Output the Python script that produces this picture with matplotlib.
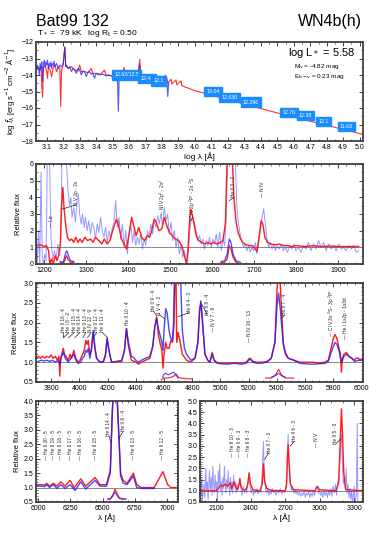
import matplotlib
matplotlib.use("Agg")
import matplotlib.pyplot as plt
from matplotlib.ticker import MultipleLocator, AutoMinorLocator, FormatStrFormatter

plt.rcParams['font.family'] = ['Liberation Sans Narrow', 'Liberation Sans', 'DejaVu Sans']

# ---------------- DATA ----------------
title_star = "Bat99 132"
title_type = "WN4b(h)"
subtitle = r"T$_*$ =  79 kK   log R$_\mathrm{t}$ = 0.50"

# SED panel
sed_model_x = [3.035,3.05,3.06,3.065,3.07,3.075,3.08,3.09,3.10,3.105,3.11,3.12,3.13,3.14,3.15,3.16,3.17,3.18,3.185,3.19,3.20,3.21,3.215,3.23,3.25,3.27,3.29,3.30,3.31,3.33,3.35,3.37,3.38,3.40,3.43,3.45,3.46,3.50,3.52,3.55,3.57,3.58,3.62,3.64,3.65,3.665,3.67,3.70,3.73,3.76,3.80,3.83,3.835,3.855,3.86,3.885,3.89,3.915,3.92,4.0,4.5,5.02]
sed_model_y = [-13.65,-13.55,-13.7,-13.5,-14.6,-15.35,-13.6,-13.4,-13.8,-14.2,-13.5,-13.7,-14.1,-13.5,-13.4,-13.8,-13.5,-13.6,-15.9,-13.7,-13.4,-12.3,-13.4,-13.6,-13.5,-13.7,-13.75,-13.4,-13.8,-13.8,-13.85,-13.6,-13.9,-13.9,-13.95,-13.7,-14.0,-14.05,-14.1,-14.05,-13.55,-14.1,-14.15,-13.9,-14.2,-13.05,-14.2,-14.3,-14.35,-14.4,-14.45,-14.2,-14.5,-14.25,-14.55,-14.3,-14.6,-14.35,-14.65,-14.95,-16.3,-17.6]
sed_obs_x = [3.04,3.045,3.05,3.055,3.06,3.065,3.07,3.075,3.08,3.085,3.09,3.095,3.10,3.105,3.11,3.115,3.12,3.125,3.13,3.135,3.14,3.145,3.15,3.16,3.17,3.18,3.19,3.20,3.21,3.215,3.22,3.23,3.24,3.25,3.26,3.27,3.28,3.29,3.30,3.31,3.32,3.33,3.34,3.35,3.36,3.37,3.38,3.39,3.40,3.42,3.44,3.46,3.48,3.50,3.51,3.52,3.53,3.535,3.54,3.56,3.58,3.60,3.62,3.64,3.66,3.665,3.67,3.69,3.71,3.73,3.75,3.77,3.79,3.81,3.82,3.825,3.83,3.835,3.84]
sed_obs_y = [-13.7,-13.4,-13.6,-14.0,-13.3,-13.6,-13.2,-14.4,-13.3,-13.1,-13.5,-13.2,-13.4,-13.1,-13.6,-13.3,-13.5,-13.2,-13.6,-13.3,-13.4,-13.15,-13.5,-13.3,-13.6,-13.4,-13.5,-13.3,-12.3,-13.5,-13.4,-13.6,-13.5,-13.8,-13.6,-13.7,-13.9,-13.6,-13.7,-14.0,-13.75,-13.8,-14.1,-13.85,-13.8,-13.95,-13.9,-14.2,-13.9,-14.0,-13.95,-14.05,-14.0,-14.1,-14.3,-14.05,-14.3,-16.2,-14.1,-14.15,-14.1,-14.2,-14.15,-14.25,-14.2,-13.4,-14.3,-14.3,-14.35,-14.4,-14.35,-14.45,-14.4,-14.5,-14.0,-14.5,-14.45,-15.3,-14.5]
phot_x = [3.585,3.71,3.78,4.11,4.21,4.34,4.57,4.67,4.78,4.92]
phot_y = [-14.0,-14.2,-14.36,-15.02,-15.37,-15.64,-16.26,-16.46,-16.81,-17.12]
phot_labels = ["12.62/12.5","12.43","12.1","13.04","12.630","12.296","12.76","12.38","12.1","11.63"]
sed_text = [r"log L$_*$ = 5.58", r"M$_\mathrm{v}$ = -4.82 mag", r"E$_\mathrm{b-v}$ = 0.23 mag"]

# UV panel
uv_model_x = [1180,1190,1200,1205,1210,1213,1217,1221,1226,1230,1234,1238,1241,1244,1247,1251,1255,1260,1265,1270,1275,1280,1285,1290,1297,1303,1310,1316,1322,1330,1337,1343,1350,1356,1363,1372,1378,1384,1390,1396,1402,1408,1414,1419,1425,1432,1439,1445,1451,1456,1462,1467,1473,1480,1486,1492,1498,1505,1512,1520,1528,1534,1539,1543,1546,1549,1553,1557,1562,1568,1575,1582,1590,1597,1604,1612,1620,1626,1632,1636,1648,1652,1657,1662,1668,1675,1682,1690,1697,1703,1707,1712,1717,1721,1726,1732,1740,1750,1760,1770,1780,1790,1800,1820,1840,1860,1880,1900,1920,1950]
uv_model_y = [1.1,1.15,1.05,1.1,0.8,0.0,0.3,0.0,0.5,0.2,0.5,1.2,3.5,4.6,3.3,2.3,1.6,1.4,1.5,1.3,1.6,1.3,1.5,1.3,1.6,1.4,1.5,1.3,1.6,1.4,1.2,1.5,1.2,1.4,2.0,2.7,2.2,1.5,1.2,0.9,1.8,2.8,2.2,1.7,2.2,1.6,1.4,1.7,1.6,2.0,2.7,2.5,2.0,2.1,2.8,2.3,1.9,1.7,1.5,1.4,1.1,0.5,0.0,1.0,2.5,3.3,2.9,2.4,1.7,1.4,1.3,1.2,1.3,1.2,1.3,1.2,1.3,1.4,2.5,6.5,6.5,4.0,2.6,1.9,1.5,1.25,1.15,1.1,1.1,0.9,0.75,1.6,2.6,2.4,1.6,1.3,1.2,1.15,1.2,1.1,1.1,1.05,1.1,1.05,1.1,1.05,1.08,1.05,1.05,1.05]
uv_obs_x = [1180,1183,1186,1189,1192,1195,1198,1201,1204,1207,1212,1216,1220,1224,1228,1232,1236,1239,1242,1252,1256,1260,1263,1266,1270,1274,1278,1281,1284,1288,1291,1295,1298,1302,1306,1310,1314,1318,1322,1326,1330,1334,1338,1342,1346,1350,1354,1358,1362,1366,1370,1374,1378,1382,1386,1390,1394,1398,1402,1406,1410,1414,1418,1422,1426,1430,1434,1438,1442,1446,1450,1454,1458,1462,1466,1470,1474,1478,1482,1486,1490,1494,1498,1502,1506,1510,1514,1518,1522,1526,1530,1534,1538,1542,1546,1550,1554,1558,1562,1566,1570,1574,1578,1582,1586,1590,1594,1598,1602,1606,1610,1614,1618,1622,1626,1630,1634,1637,1655,1659,1663,1667,1671,1675,1679,1683,1687,1691,1695,1699,1703,1707,1711,1715,1719,1723,1727,1731,1735,1739,1743,1747,1751,1755,1760,1765,1770,1775,1780,1785,1790,1795,1800,1806,1812,1818,1824,1830,1836,1842,1848,1854,1860,1866,1872,1878,1884,1890,1896,1902,1908,1914,1920,1926,1932,1938,1944,1950]
uv_obs_y = [2.5,0.0,2.0,0.0,5.5,0.5,0.0,0.6,0.2,6.5,6.5,1.5,0.2,0.8,0.3,1.2,0.5,1.5,6.5,6.5,4.5,3.5,4.0,2.8,3.4,2.5,3.8,4.2,3.0,2.4,3.0,2.2,2.8,2.0,2.6,1.8,2.5,2.2,1.5,2.4,1.9,2.8,2.0,1.6,2.2,1.3,2.0,1.5,2.2,2.5,3.8,2.2,2.8,1.5,2.4,1.0,2.0,0.6,1.8,2.4,1.3,2.0,1.1,1.6,1.2,1.9,0.9,1.5,1.1,2.0,1.6,2.4,1.8,2.6,2.2,2.9,2.4,3.0,2.3,3.4,2.6,3.0,1.8,2.5,1.4,2.0,1.0,1.6,0.6,1.2,0.4,0.8,0.0,0.3,1.8,2.6,2.8,2.5,2.0,1.4,1.7,1.2,1.5,0.9,1.4,1.1,1.6,1.0,1.5,1.2,1.8,1.0,1.9,0.8,1.5,1.1,3.0,6.5,6.5,3.5,2.4,1.8,1.3,1.0,1.2,0.8,1.1,0.7,1.0,0.8,1.3,0.6,1.2,2.0,2.8,3.3,2.4,1.5,1.0,1.3,0.9,1.2,0.8,1.1,0.9,1.2,0.8,1.0,0.7,1.1,0.9,1.2,0.8,1.0,0.7,1.1,0.9,1.3,0.8,1.2,0.9,1.4,1.0,1.3,0.8,1.2,0.9,1.1,0.8,1.2,0.9,1.0,0.8,1.1,0.9,1.1,0.7,0.8]
uv_ins1_x = [1238,1245,1250,1253,1256,1262,1270]
uv_ins1_red = [0.1,0.0,0.3,0.5,0.3,0.1,0.1]
uv_ins1_blue = [0.15,0.1,0.6,0.8,0.6,0.2,0.15]
uv_ins2_x = [1622,1630,1636,1641,1645,1650,1657,1668]
uv_ins2_red = [0.1,0.1,0.3,1.1,0.9,0.4,0.1,0.0]
uv_ins2_blue = [0.15,0.2,0.6,1.5,1.3,0.6,0.2,0.1]

# Optical panel
opt_model_x = [3693,3710,3725,3740,3755,3770,3785,3800,3815,3830,3845,3855,3862,3868,3876,3886,3895,3905,3921,3935,3945,3961,3975,3992,4005,4023,4035,4046,4055,4063,4075,4085,4098,4110,4122,4145,4170,4185,4197,4210,4228,4260,4300,4320,4334,4348,4369,4400,4420,4440,4470,4500,4520,4535,4548,4560,4571,4585,4593,4600,4612,4622,4636,4648,4660,4670,4678,4685,4690,4700,4712,4730,4760,4790,4820,4840,4852,4861,4872,4890,4910,4925,4941,4955,4972,5000,5050,5100,5150,5185,5200,5210,5230,5260,5300,5330,5360,5386,5400,5408,5420,5430,5445,5460,5480,5520,5563,5600,5650,5700,5740,5764,5780,5800,5812,5825,5840,5850,5857,5863,5875,5892,5910,5930,5950,5960,5977,5990,6010]
opt_model_y = [1.08,1.15,1.1,1.15,1.1,1.15,1.12,1.18,1.1,1.15,1.05,1.15,0.65,1.1,1.2,1.35,1.2,1.15,1.05,1.2,1.1,1.3,1.1,1.0,1.05,1.2,1.3,1.55,1.45,1.55,1.2,1.3,1.75,1.35,1.1,1.0,1.02,1.2,1.6,1.3,1.0,1.0,1.02,1.3,1.85,1.4,1.05,1.0,0.95,1.0,1.05,1.1,1.4,1.9,2.15,1.7,1.5,1.3,0.85,1.2,1.5,1.35,1.35,1.55,1.5,1.9,3.2,3.2,1.5,1.75,1.55,1.2,1.05,1.0,1.1,1.5,2.3,2.5,2.0,1.2,1.05,1.0,1.25,1.05,1.0,0.98,0.98,0.99,0.98,1.0,1.08,1.1,1.02,1.0,1.0,1.02,1.1,1.5,2.8,3.2,3.2,2.5,1.5,1.25,1.1,1.05,1.0,1.0,1.0,0.98,1.0,1.05,1.3,1.6,1.7,1.6,1.35,1.2,0.75,1.1,1.2,1.25,1.15,1.1,1.05,1.1,1.1,1.05,1.1]
opt_obs_x = [3693,3710,3730,3750,3770,3790,3810,3830,3850,3862,3870,3886,3900,3921,3940,3961,3975,3992,4010,4023,4035,4046,4055,4063,4075,4085,4098,4110,4122,4145,4170,4185,4197,4210,4228,4260,4300,4320,4334,4348,4369,4385,4400,4420,4440,4470,4500,4520,4535,4548,4560,4571,4585,4593,4600,4612,4622,4636,4648,4660,4668,4675,4715,4722,4730,4745,4760,4790,4820,4840,4852,4861,4872,4890,4910,4925,4941,4955,4972,5000,5050,5100,5150,5185,5200,5210,5230,5260,5300,5330,5360,5386,5400,5412,5425,5445,5460,5480,5520,5563,5600,5650,5700,5740,5764,5780,5800,5812,5825,5840,5850,5860,5875,5892,5910,5930,5950,5977,6010]
opt_obs_y = [1.0,1.02,1.05,1.03,1.05,1.02,1.05,1.0,1.05,0.95,1.1,1.25,1.1,1.0,1.1,1.2,1.05,0.97,1.0,1.1,1.15,1.3,1.25,1.35,1.1,1.3,1.8,1.4,1.1,1.0,1.0,1.15,1.6,1.3,1.0,1.02,1.05,1.3,1.85,1.5,1.15,1.12,1.05,1.0,1.05,1.1,1.15,1.4,1.9,2.1,1.85,1.7,1.5,1.3,1.8,2.35,2.25,1.8,1.6,1.55,2.0,3.5,3.5,2.6,1.8,1.35,1.2,1.05,1.1,1.5,2.3,2.55,2.1,1.2,1.05,1.0,1.2,1.05,0.98,0.96,0.95,0.97,0.95,0.98,1.05,1.08,1.0,0.97,0.98,1.0,1.1,1.5,2.4,2.75,2.3,1.45,1.2,1.1,1.05,0.97,0.96,0.95,0.96,0.97,1.02,1.2,1.4,1.5,1.45,1.3,1.1,1.0,1.15,1.2,1.15,1.1,1.02,1.05,1.05]
opt_ins1_x = [4580,4600,4620,4650,4670,4686,4700,4720,4760,4800]
opt_ins1_red = [0.55,0.6,0.6,0.62,0.65,0.7,0.62,0.6,0.58,0.58]
opt_ins1_bx = [4590,4600,4612,4630,4650,4668,4680,4700]
opt_ins1_blue = [0.62,0.7,0.72,0.68,0.72,0.75,0.7,0.6]
opt_ins2_x = [5320,5360,5390,5412,5432,5460,5520]
opt_ins2_red = [0.6,0.6,0.68,0.82,0.68,0.6,0.6]
opt_ins2_bx = [5360,5390,5412,5432,5460]
opt_ins2_blue = [0.62,0.66,0.72,0.66,0.62]

# Red optical panel
red_model_x = [5984,6030,6050,6067,6090,6119,6145,6176,6210,6248,6280,6331,6370,6442,6480,6530,6560,6575,6582,6612,6620,6640,6660,6690,6739,6765,6800,6900,6968,7005,7030,7085]
red_model_y = [1.1,1.1,1.08,1.15,1.05,1.15,1.05,1.2,1.05,1.25,1.0,1.3,1.05,1.35,1.1,1.1,1.6,3.5,4.2,4.2,3.5,1.5,1.25,1.15,1.5,1.1,1.0,1.0,1.55,1.1,1.0,1.0]
red_obs_x = [5984,6030,6050,6067,6090,6119,6145,6176,6210,6248,6287,6331,6370,6442,6480,6530,6560,6575,6582,6612,6620,6640,6660,6690,6739,6765,6800,6900]
red_obs_y = [1.05,1.05,1.03,1.1,1.0,1.1,0.97,1.1,0.97,1.1,0.9,1.2,0.95,1.25,1.05,1.05,1.5,3.6,4.2,4.2,3.4,1.4,1.15,1.1,1.4,1.0,0.97,0.97]
red_ins_x = [6540,6560,6580,6597,6612,6630,6650,6680]
red_ins_red = [0.6,0.62,0.75,0.95,0.8,0.65,0.62,0.6]
red_ins_blue = [0.6,0.6,0.7,0.85,0.72,0.62,0.6,0.6]

# Near-UV panel
nuv_model_x = [1960,2100,2120,2140,2160,2180,2200,2220,2235,2255,2270,2285,2300,2306,2315,2330,2360,2375,2386,2398,2420,2480,2500,2511,2522,2540,2580,2700,2712,2718,2725,2734,2745,2770,2960,2970,2980,2995,3140,3165,3176,3188,3197,3208,3225,3380]
nuv_model_y = [1.0,1.0,1.1,1.25,1.2,1.3,1.2,1.35,1.1,1.4,1.15,1.05,1.3,1.55,1.2,1.05,1.05,1.3,1.8,1.3,1.05,1.0,1.3,2.2,1.4,1.1,1.02,1.0,1.3,2.4,3.05,2.2,1.3,1.05,1.0,1.15,1.2,1.05,1.0,1.4,3.0,4.65,3.5,1.8,1.05,1.0]
nuv_obs_x = [1960,1965,1970,1975,1980,1988,1995,2002,2010,2017,
             2024,2030,2036,2042,2050,2057,2064,2071,2078,2085,
             2092,2099,2105,2112,2118,2125,2132,2138,2145,2152,
             2158,2165,2172,2178,2185,2192,2198,2205,2212,2218,
             2225,2232,2238,2245,2252,2258,2265,2272,2280,2288,
             2296,2306,2315,2325,2335,2345,2355,2365,2375,2386,
             2396,2405,2415,2425,2435,2445,2455,2465,2475,2490,
             2500,2511,2518,2528,2538,2548,2558,2568,2578,2588,
             2598,2610,2620,2632,2644,2656,2668,2680,2692,2705,
             2712,2718,2725,2734,2744,2754,2764,2774,2784,2794,
             2804,2814,2824,2834,2844,2854,2864,2874,2884,2894,
             2904,2914,2924,2934,2944,2954,2966,2976,2986,2996,
             3006,3016,3026,3036,3046,3056,3066,3076,3086,3096,
             3106,3116,3126,3136,3146,3156,3166,3176,3184,3190,
             3197,3205,3213,3221,3229,3237,3245,3253,3261,3269,
             3277,3285,3292,3298,3305,3312,3318,3325,3330]
nuv_obs_y = [1.7,0.5,1.1,1.6,0.6,0.9,1.3,0.7,2.0,1.0,
             1.4,0.6,1.2,1.9,1.0,1.6,0.8,2.1,1.3,0.9,
             1.7,1.0,1.4,0.5,1.9,1.2,2.2,1.0,1.4,0.8,
             1.6,1.1,2.1,1.3,0.9,1.5,1.1,1.9,1.2,0.8,
             1.6,1.0,1.4,0.9,1.7,1.2,1.4,0.9,1.3,1.0,
             1.2,1.5,1.1,0.8,1.2,0.9,1.1,0.9,1.3,1.75,
             1.2,0.9,1.1,0.8,1.0,0.9,1.1,0.85,1.0,0.9,
             1.8,3.2,1.6,1.1,0.9,1.1,0.8,1.0,0.85,1.1,
             0.9,1.0,0.8,1.0,0.9,1.1,0.85,1.0,0.9,1.1,
             1.4,2.5,3.5,2.0,1.3,1.0,1.2,0.9,1.05,0.85,
             1.0,0.8,0.95,0.75,0.9,0.8,1.0,0.7,0.9,0.8,
             1.0,0.7,0.9,0.75,1.0,0.8,1.1,1.2,0.9,1.05,
             0.8,0.95,0.7,1.0,0.8,0.95,0.7,1.0,0.8,1.1,
             0.75,1.2,0.9,1.3,0.8,1.4,1.7,2.5,3.5,3.2,
             2.0,1.3,1.6,1.1,2.0,0.9,1.3,0.7,1.1,0.6,
             1.0,0.5,0.8,1.2,0.5,0.6,1.0,4.0,0.5]

# line identifications: (x of text, text, bottom y)
uv_ids = [(1217,"— Lα",2.2),(1276,"N V 2p - 2s",3.55),(1483,"— N IV 2p$^3$ - 2s$^2$",2.9),(1553,"C IV 2p $^2$P° - 2s $^2$S",2.7),(1652,"He II 3 - 2",4.0),(1720,"— N IV",4.0)]
uv_leaders = [(1276,3.55,1243,3.3),(1552,2.7,1547,2.55),(1652,4.0,1641,3.8)]
opt_ids = [(3886,"He II 16 - 4",1.75),(3926,"He I 8 - 2",1.75),(3964,"He II 15 - 4",1.75),(4004,"He II 14 - 4",1.75),(4045,"He II 13 - 4",1.75),(4082,"N IV 12 - 9",1.75),(4123,"He II 12 - 4",1.75),(4163,"He II 11 - 4",1.75),(4343,"He II 10 - 4",1.95),(4524,"He II 9 - 4",2.3),(4567,"N V 4 - 3",2.2),(4780,"He II 4 - 3",2.25),(4907,"He II 8 - 4",2.2),(4950,"— N V 7 - 6",1.75),(5208,"— N IV 16 - 13",1.5),(5457,"He II 7 - 4",2.2),(5791,"— C IV 3s $^2$S - 3p $^2$P°",1.63),(5888,"— He I 1s2p - 1s3d",1.58)]
opt_leaders = [(3886,1.75,3887,1.62),(3926,1.75,3889,1.62),(3964,1.75,3923,1.62),(4004,1.75,3968,1.62),(4045,1.75,4026,1.62),(4082,1.75,4058,1.62),(4123,1.75,4100,1.62),(4163,1.75,4200,1.62),(4524,2.3,4542,2.2),(4567,2.2,4604,2.1),(4780,2.25,4700,2.15),(4907,2.2,4870,2.45),(5457,2.2,5430,2.1)]
red_ids = [(6067,"— He II 20 - 5",1.95),(6119,"— He II 19 - 5",1.95),(6176,"— He II 18 - 5",1.95),(6248,"— He II 17 - 5",1.95),(6331,"— He II 16 - 5",1.95),(6442,"— He II 15 - 5",1.95),(6550,"He II 14 - 4",2.8),(6660,"He II 6 - 4",2.95),(6739,"— He II 13 - 5",1.95),(6968,"— He II 12 - 5",1.95)]
red_leaders = [(6550,2.8,6565,2.55),(6660,2.95,6625,2.7)]
nuv_ids = [(2246,"— He II 10 - 3",2.5),(2307,"— He II 9 - 3",2.5),(2377,"— He II 8 - 3",2.5),(2559,"He II 7 - 3",2.7),(2777,"He II 6 - 3",3.2),(2968,"— N V",2.95),(3140,"He II 5 - 3",3.1)]
nuv_leaders = [(2559,2.7,2520,2.4),(2777,3.2,2745,3.0),(3140,3.1,3180,3.3)]

# ---------------- PLOT ----------------
W, H = 382, 541
fig = plt.figure(figsize=(W/100, H/100), dpi=100)

RED = '#ff1a1a'
BLUE = '#1a1aff'
SP = '#404040'
IDFS = 3.4

def box(l, t, r, b):
    return [l/W, 1-b/H, (r-l)/W, (b-t)/H]

def style(ax, xmaj, ymaj, xmin=None, ymin=None):
    for s in ax.spines.values():
        s.set_color(SP)
        s.set_linewidth(1.3)
    ax.xaxis.set_major_locator(MultipleLocator(xmaj))
    ax.yaxis.set_major_locator(MultipleLocator(ymaj))
    ax.xaxis.set_minor_locator(AutoMinorLocator(xmin or 2))
    ax.yaxis.set_minor_locator(AutoMinorLocator(ymin or 2))
    ax.tick_params(which='both', direction='in', top=True, right=True, labelsize=5, pad=2, color=SP)
    ax.tick_params(which='major', length=3, width=0.7)
    ax.tick_params(which='minor', length=1.6, width=0.5)

def ids(ax, lst, leaders=()):
    for x, t, y in lst:
        ax.text(x, y, t, rotation=90, ha='center', va='bottom', fontsize=IDFS, color='#222222')
    for x0, y0, x1, y1 in leaders:
        ax.plot([x0, x1], [y0, y1], color='#222222', lw=0.5)

# title
fig.text(36/W, 1-26/H, title_star, fontsize=11.5, ha='left', va='baseline', family='Liberation Sans')
fig.text(362/W, 1-26/H, title_type, fontsize=11.5, ha='right', va='baseline', family='Liberation Sans')
fig.text(37/W, 1-35/H, subtitle, fontsize=6.0, ha='left', va='baseline', family='Liberation Sans')

# Panel 1 SED
ax1 = fig.add_axes(box(36, 42, 363, 141))
ax1.plot(sed_model_x, sed_model_y, color=RED, lw=0.8, alpha=0.9)
ax1.plot(sed_obs_x, sed_obs_y, color=BLUE, lw=0.8, alpha=0.75)
for x, y, t in zip(phot_x, phot_y, phot_labels):
    ax1.text(x, y, t, fontsize=3.8, color='white', ha='center', va='center',
             bbox=dict(boxstyle='square,pad=0.4', fc='#1a8cff', ec='#1a8cff'))
ax1.set_xlim(3.035, 5.02)
ax1.set_ylim(-18, -12)
style(ax1, 0.1, 1, 2, 2)
ax1.xaxis.set_major_formatter(FormatStrFormatter('%.1f'))
ax1.set_xlabel(r"log λ [Å]", fontsize=6, labelpad=1)
ax1.set_ylabel(r"log $f_\lambda$ [erg s$^{-1}$ cm$^{-2}$ Å$^{-1}$]", fontsize=5.5, labelpad=2)
ax1.text(0.976, 0.886, sed_text[0], transform=ax1.transAxes, ha='right', va='center', fontsize=8, family='Liberation Sans')
ax1.text(0.789, 0.75, sed_text[1], transform=ax1.transAxes, ha='left', va='center', fontsize=4.6)
ax1.text(0.789, 0.65, sed_text[2], transform=ax1.transAxes, ha='left', va='center', fontsize=4.6)

# Panel 2 UV
ax2 = fig.add_axes(box(36, 164, 363, 264))
ax2.axhline(1, color='#888888', lw=0.7)
ax2.plot(uv_obs_x, uv_obs_y, color=BLUE, lw=0.7, alpha=0.45)
ax2.plot(uv_model_x, uv_model_y, color=RED, lw=1.0)
ax2.plot(uv_ins1_x, uv_ins1_red, color=RED, lw=0.9)
ax2.plot(uv_ins1_x, uv_ins1_blue, color=BLUE, lw=0.9, alpha=0.8)
ax2.plot(uv_ins2_x, uv_ins2_red, color=RED, lw=0.9)
ax2.plot(uv_ins2_x, uv_ins2_blue, color=BLUE, lw=0.9, alpha=0.8)
ax2.set_xlim(1180, 1960)
ax2.set_ylim(0, 6)
style(ax2, 100, 1, 5, 2)
ax2.set_ylabel("Relative flux", fontsize=5.5, labelpad=5)
ids(ax2, uv_ids, uv_leaders)

# Panel 3 optical
ax3 = fig.add_axes(box(36, 283, 363, 382))
ax3.axhline(1, color='#888888', lw=0.7)
ax3.plot(opt_model_x, opt_model_y, color=RED, lw=1.0)
ax3.plot(opt_obs_x, opt_obs_y, color=BLUE, lw=1.0, alpha=0.8)
ax3.plot(opt_ins1_x, opt_ins1_red, color=RED, lw=0.8)
ax3.plot(opt_ins1_bx, opt_ins1_blue, color=BLUE, lw=0.8, alpha=0.8)
ax3.plot(opt_ins2_x, opt_ins2_red, color=RED, lw=0.8)
ax3.plot(opt_ins2_bx, opt_ins2_blue, color=BLUE, lw=0.8, alpha=0.8)
ax3.set_xlim(3693, 6010)
ax3.set_ylim(0.5, 3.0)
style(ax3, 200, 0.5, 4, 5)
ax3.set_ylabel("Relative flux", fontsize=5.5, labelpad=3)
ids(ax3, opt_ids, opt_leaders)

# Panel 4 left
ax4 = fig.add_axes(box(36, 401, 178, 502))
ax4.axhline(1, color='#888888', lw=0.7)
ax4.plot(red_model_x, red_model_y, color=RED, lw=1.0)
ax4.plot(red_obs_x, red_obs_y, color=BLUE, lw=1.0, alpha=0.8)
ax4.plot(red_ins_x, red_ins_red, color=RED, lw=0.8)
ax4.plot(red_ins_x, red_ins_blue, color=BLUE, lw=0.8, alpha=0.8)
ax4.set_xlim(5984, 7085)
ax4.set_ylim(0.5, 4.0)
style(ax4, 250, 0.5, 5, 5)
ax4.set_ylabel("Relative flux", fontsize=5.5, labelpad=2)
ax4.set_xlabel("λ [Å]", fontsize=6, labelpad=1)
ids(ax4, red_ids, red_leaders)

# Panel 4 right
ax5 = fig.add_axes(box(200, 401, 363, 502))
ax5.axhline(1, color='#888888', lw=0.7)
ax5.plot(nuv_obs_x, nuv_obs_y, color=BLUE, lw=0.7, alpha=0.45)
ax5.plot(nuv_model_x, nuv_model_y, color=RED, lw=1.0)
ax5.set_xlim(1960, 3375)
ax5.set_ylim(0.5, 5.0)
style(ax5, 300, 0.5, 3, 5)
ax5.set_xlabel("λ [Å]", fontsize=6, labelpad=1)
ids(ax5, nuv_ids, nuv_leaders)

fig.savefig("out.png", dpi=100)
